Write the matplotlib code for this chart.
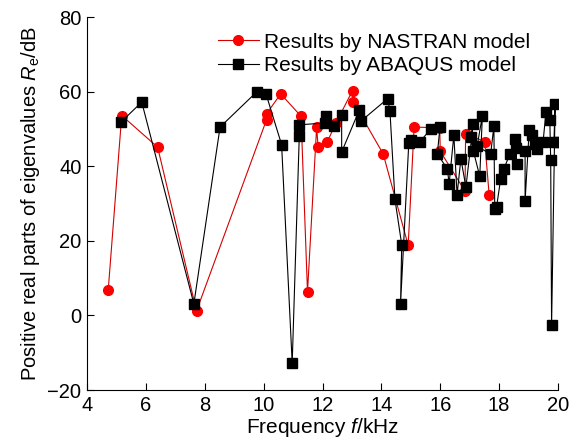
# eigenvalue real parts vs frequency: NASTRAN vs ABAQUS

import matplotlib
matplotlib.use('Agg')
import matplotlib.pyplot as plt

plt.rcParams['font.family'] = 'Liberation Sans'
plt.rcParams['mathtext.fontset'] = 'custom'
plt.rcParams['mathtext.rm'] = 'Liberation Sans'
plt.rcParams['mathtext.it'] = 'Liberation Sans:italic'

# -- data --
nastran_freq = [4.72, 5.18, 6.40, 7.72, 10.10, 10.10, 10.58, 11.27, 11.49,
                11.80, 11.85, 12.16, 12.45, 13.02, 13.05, 14.06, 14.91, 15.11,
                15.98, 16.00, 16.84, 16.86, 17.51, 17.66]
nastran_re = [6.7, 53.6, 45.1, 1.2, 52.5, 54.1, 59.4, 53.4, 6.3,
              50.5, 45.1, 46.5, 51.5, 60.3, 57.2, 43.3, 18.8, 50.5,
              50.3, 44.0, 33.3, 48.7, 46.6, 32.3]

abaqus_freq = [5.15, 5.86, 7.63, 8.52, 9.76, 10.08, 10.61, 10.97, 11.21, 11.21,
               12.08, 12.12, 12.39, 12.65, 12.65, 13.25, 13.29, 14.21, 14.29,
               14.46, 14.69, 14.65, 14.93, 15.02, 15.31, 15.67, 15.99, 15.90,
               16.24, 16.30, 16.46, 16.57, 16.70, 16.87, 17.12, 17.03, 17.12,
               17.34, 17.43, 17.25, 17.71, 17.82, 17.85, 17.91, 18.05, 18.16,
               18.36, 18.53, 18.59, 18.57, 18.88, 18.88, 19.02, 19.13, 19.21,
               19.27, 19.49, 19.59, 19.72, 19.75, 19.78, 19.90, 19.86, 20.00]
abaqus_re = [51.8, 57.2, 3.1, 50.5, 59.9, 59.4, 45.8, -12.8, 48.0, 51.1,
             51.6, 53.4, 50.7, 53.8, 43.8, 55.1, 52.0, 58.1, 54.8,
             31.1, 19.0, 3.1, 46.2, 47.1, 46.6, 49.9, 50.5, 43.3,
             39.3, 35.3, 48.3, 32.4, 42.0, 34.4, 51.4, 47.8, 44.2,
             37.3, 53.6, 45.3, 43.3, 50.7, 28.6, 29.0, 36.6, 39.3,
             43.2, 47.2, 40.7, 45.0, 44.2, 30.6, 49.8, 48.5, 46.0,
             44.7, 46.5, 54.5, 52.3, 41.7, -2.7, 56.6, 46.5, 46.5]

x_ticks = [4, 6, 8, 10, 12, 14, 16, 18, 20]
y_ticks = [-20, 0, 20, 40, 60, 80]

fig = plt.figure(figsize=(5.78, 4.44), dpi=100)
ax = fig.add_axes([0.1505, 0.1216, 0.815, 0.84])

ax.plot(nastran_freq, nastran_re, color='#d40000', lw=0.8, marker='o',
        markersize=7, markerfacecolor='red', markeredgecolor='red',
        label='Results by NASTRAN model', zorder=2)
ax.plot(abaqus_freq, abaqus_re, color='black', lw=0.8, marker='s',
        markersize=7.5, markerfacecolor='black', markeredgecolor='black',
        label='Results by ABAQUS model', zorder=3)

ax.set_xlim(4, 20)
ax.set_ylim(-20, 80)
ax.set_xticks(x_ticks)
ax.set_yticks(y_ticks)
ax.tick_params(direction='in', length=5, width=0.8, labelsize=14.5, pad=4)

for side in ['top', 'right']:
    ax.spines[side].set_visible(False)

ax.set_xlabel('Frequency $\\mathit{f}$/kHz', fontsize=15, labelpad=1)
ax.set_ylabel('Positive real parts of eigenvalues $\\mathit{R}_{\\mathrm{e}}$/dB',
              fontsize=14.5, labelpad=4)

ax.legend(loc='upper left', bbox_to_anchor=(0.362, 0.945),
          bbox_transform=fig.transFigure, frameon=False, fontsize=15,
          handlelength=2.0, handletextpad=0.25, labelspacing=0.2,
          borderaxespad=0)

plt.savefig('out.png', dpi=100)
